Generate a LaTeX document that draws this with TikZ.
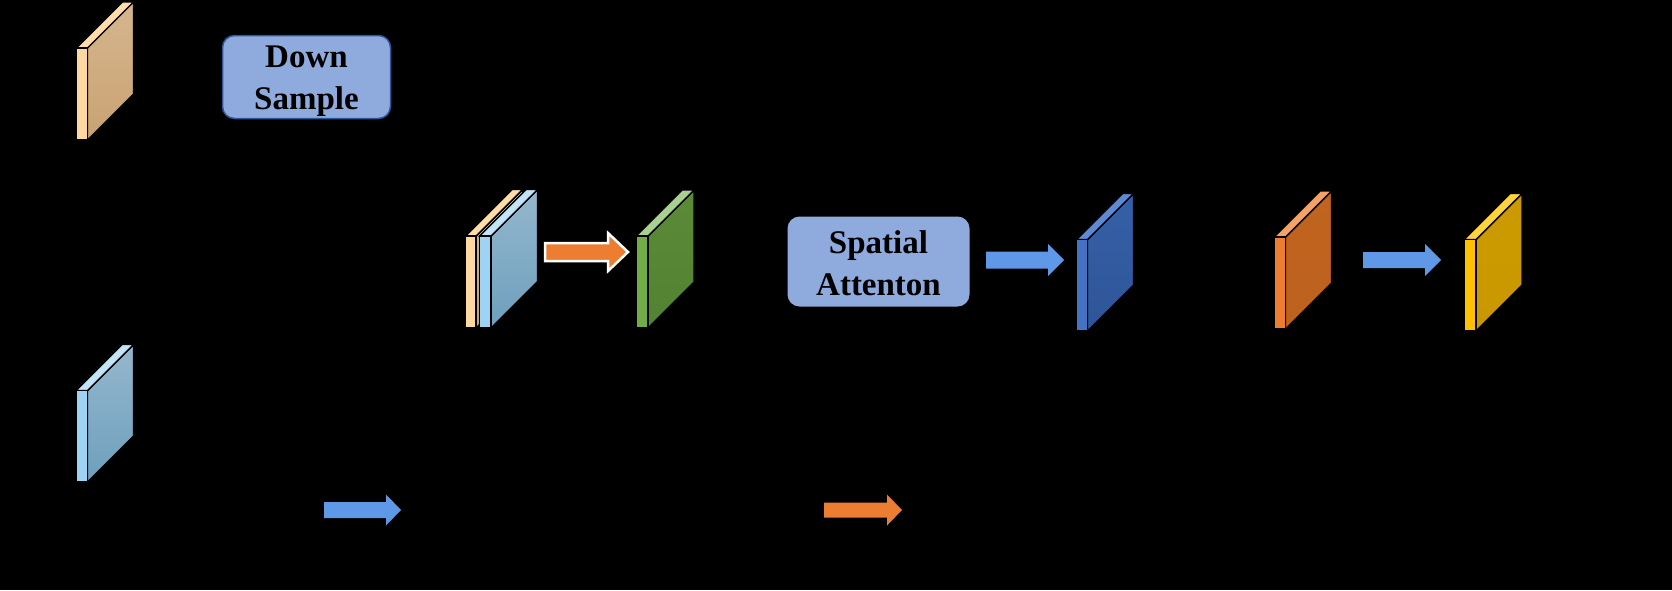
\documentclass[tikz,border=0pt]{standalone}
\usepackage{fontspec}
\setmainfont{Liberation Serif}
\definecolor{boxblue}{HTML}{8FAADC}
\definecolor{boxedge}{HTML}{2F5597}
\definecolor{arrblue}{HTML}{5E98E6}
\definecolor{arrorange}{HTML}{ED7D31}
\tikzset{
  slabline/.style={draw=black,line width=1.4pt,line join=miter},
  labelbox/.style={rounded corners=12pt,fill=boxblue,inner sep=0pt},
  labeltext/.style={font=\bfseries\fontsize{33}{42}\selectfont,align=center,inner sep=0pt},
}
% #1 name, #2 x0, #3 y0, #4 x1, #5 y1, #6 d, #7 front, #8 top face, #9 side face top (bottom via \sidebot)
\newcommand\featslab[9]{%
  \coordinate (#1) at (#2,#3);
  \path[slabline,top color=#9,bottom color=\sidebot] (#4,#3) -- (#4+#6,#3-#6) -- (#4+#6,#5-#6) -- (#4,#5) -- cycle;
  \path[slabline,fill=#8] (#2,#3) -- (#2+#6,#3-#6) -- (#4+#6,#3-#6) -- (#4,#3) -- cycle;
  \path[slabline,fill=#7] (#2,#3) rectangle (#4,#5);
}
% #1 name, #2 x0, #3 xhead, #4 xtip, #5 yc, #6 shaft half, #7 head half, #8 style
\newcommand\blockarr[8]{%
  \path[#8] (#2,#5-#6) -- (#3,#5-#6) -- (#3,#5-#7) -- (#4,#5) -- (#3,#5+#7) -- (#3,#5+#6) -- (#2,#5+#6) -- cycle;
  \coordinate (#1) at (#2,#5);
}
\begin{document}
\begin{tikzpicture}[x=1pt,y=-1pt]
\fill[black] (0,0) rectangle (1672,590);
\useasboundingbox (0,0) rectangle (1672,590);

% top-left tan slab
\definecolor{tanfront}{HTML}{FFD7A0}
\definecolor{tantop}{HTML}{FFDCAA}
\definecolor{tanside}{HTML}{D6B68F}
\definecolor{tanbot}{HTML}{C9A272}
\def\sidebot{tanbot}
\featslab{slabtan}{76.5}{48}{87.5}{140}{46}{tanfront}{tantop}{tanside}

% Down Sample box
\node[labelbox,draw=boxedge,line width=1.5pt,minimum width=168pt,minimum height=83pt] (down) at (306.5,77) {};
\node[labeltext] (downtext) at (306.5,81) {Down\\Sample};

% bottom-left light blue slab
\definecolor{lbfront}{HTML}{9DD3F5}
\definecolor{lbtop}{HTML}{C2E4F8}
\definecolor{lbside}{HTML}{95B7CE}
\definecolor{lbbot}{HTML}{6E9FBD}
\def\sidebot{lbbot}
\featslab{slabblue}{76}{390.5}{87.5}{482}{46}{lbfront}{lbtop}{lbside}

% concatenated stack
\def\sidebot{tanbot}
\featslab{slabcatA}{465.5}{236}{476}{328}{46.5}{tanfront}{tantop}{tanside}
\def\sidebot{lbbot}
\featslab{slabcatB}{479.5}{236}{491}{328}{46.5}{lbfront}{lbtop}{lbside}

% orange arrow with white outline
\blockarr{arrA}{545}{608}{628}{252}{9}{19}{fill=arrorange,draw=white,line width=2.5pt,line join=miter}

% green slab
\definecolor{grfront}{HTML}{70AD47}
\definecolor{grtop}{HTML}{A9D18E}
\definecolor{grside}{HTML}{5B8B37}
\definecolor{grbot}{HTML}{538232}
\def\sidebot{grbot}
\featslab{slabgreen}{636}{236}{648}{328}{46}{grfront}{grtop}{grside}

% Spatial Attenton box
\node[labelbox,minimum width=182pt,minimum height=90pt] (spatial) at (878.5,261.5) {};
\node[labeltext] (spatialtext) at (878.5,263.5) {Spatial\\Attenton};

% blue arrow
\blockarr{arrB}{986}{1048}{1064}{260}{8.5}{16}{fill=arrblue}

% dark blue slab
\definecolor{dbfront}{HTML}{4472C4}
\definecolor{dbtop}{HTML}{5C8AD6}
\definecolor{dbside}{HTML}{3560A8}
\definecolor{dbbot}{HTML}{2F5597}
\def\sidebot{dbbot}
\featslab{slabdark}{1076.5}{239.5}{1087.5}{331}{46}{dbfront}{dbtop}{dbside}

% orange slab
\definecolor{orfront}{HTML}{ED7D31}
\definecolor{ortop}{HTML}{F4A266}
\definecolor{orside}{HTML}{C0641F}
\definecolor{orbot}{HTML}{BD621F}
\def\sidebot{orbot}
\featslab{slaborange}{1274}{237}{1285.5}{329}{46}{orfront}{ortop}{orside}

% blue arrow
\blockarr{arrC}{1363}{1425}{1441}{260}{8}{16}{fill=arrblue}

% yellow slab
\definecolor{yefront}{HTML}{FFC000}
\definecolor{yetop}{HTML}{FFD43B}
\definecolor{yeside}{HTML}{CC9A00}
\definecolor{yebot}{HTML}{C99800}
\def\sidebot{yebot}
\featslab{slabyellow}{1464}{239.5}{1476}{331}{46}{yefront}{yetop}{yeside}

% legend arrows
\blockarr{legblue}{324}{386}{401}{510}{8}{15.5}{fill=arrblue}
\blockarr{legorange}{824}{887}{902}{510}{7.5}{15.5}{fill=arrorange}
\end{tikzpicture}
\end{document}
